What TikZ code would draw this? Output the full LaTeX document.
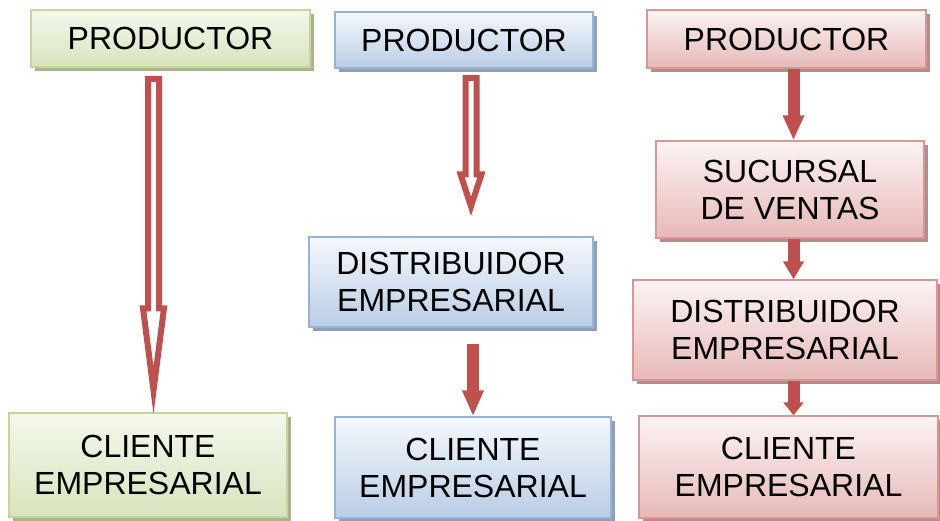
\documentclass[tikz,border=0pt]{standalone}
\usepackage{fontspec}
\setmainfont{Liberation Sans}
\usetikzlibrary{arrows.meta,calc,shadows}

\definecolor{arrowred}{HTML}{C0504D}
\definecolor{greenline}{HTML}{C3D69B}
\definecolor{greentop}{HTML}{F4F8EC}
\definecolor{greenbot}{HTML}{D7E4BD}
\definecolor{greenshadow}{HTML}{A9B48F}
\definecolor{blueline}{HTML}{95B3D7}
\definecolor{bluetop}{HTML}{F5F8FC}
\definecolor{bluebot}{HTML}{B9CDE5}
\definecolor{blueshadow}{HTML}{8F9FB4}
\definecolor{redline}{HTML}{D99694}
\definecolor{redtop}{HTML}{FCF3F3}
\definecolor{redbot}{HTML}{E6B9B8}
\definecolor{redshadow}{HTML}{B38C8C}

\tikzset{
  box/.style={draw, line width=1.5pt, inner sep=0pt, align=center,
    font=\fontsize{32}{37}\selectfont},
  greenbox/.style={box, draw=greenline, top color=greentop, bottom color=greenbot,
    drop shadow={shadow xshift=4pt, shadow yshift=-4pt, fill=greenshadow, opacity=1}},
  bluebox/.style={box, draw=blueline, top color=bluetop, bottom color=bluebot,
    drop shadow={shadow xshift=4pt, shadow yshift=-4pt, fill=blueshadow, opacity=1}},
  redbox/.style={box, draw=redline, top color=redtop, bottom color=redbot,
    drop shadow={shadow xshift=4pt, shadow yshift=-4pt, fill=redshadow, opacity=1}},
  hollowarrow/.style={draw=arrowred, line width=6pt, fill=white, line join=miter},
  blockarrow/.style={draw=arrowred, line width=12pt, -{Triangle[width=20pt,length=#1]}},
  blockarrow/.default=25pt
}

% from, to, head length
\newcommand{\drawhollow}[3]{%
  \draw[hollowarrow] let \p1=(#1), \p2=(#2) in
    (\x1-5.5pt,\y1) -- (\x1-5.5pt,\y2+#3) -- (\x1-10.5pt,\y2+#3) -- (\x1,\y2)
    -- (\x1+10.5pt,\y2+#3) -- (\x1+5.5pt,\y2+#3) -- (\x1+5.5pt,\y1) -- cycle;}

\begin{document}
\begin{tikzpicture}[x=1pt, y=-1pt]
  \useasboundingbox (0,0) rectangle (940,520);

  % green column
  \node[greenbox, minimum width=279pt, minimum height=57pt] (g1) at (170.5,38.5) {PRODUCTOR};
  \node[greenbox, minimum width=278pt, minimum height=104pt] (g2) at (148,465) {CLIENTE\\EMPRESARIAL};

  % blue column
  \node[bluebox, minimum width=258pt, minimum height=56pt] (b1) at (464,40) {PRODUCTOR};
  \node[bluebox, minimum width=284pt, minimum height=90pt] (b2) at (451,282) {DISTRIBUIDOR\\EMPRESARIAL};
  \node[bluebox, minimum width=276pt, minimum height=101pt] (b3) at (473,467.5) {CLIENTE\\EMPRESARIAL};

  % red column
  \node[redbox, minimum width=279pt, minimum height=58pt] (r1) at (786.5,39) {PRODUCTOR};
  \node[redbox, minimum width=268pt, minimum height=97pt] (r2) at (790,189.5) {SUCURSAL\\DE VENTAS};
  \node[redbox, minimum width=304pt, minimum height=100pt] (r3) at (785,330) {DISTRIBUIDOR\\EMPRESARIAL};
  \node[redbox, minimum width=299pt, minimum height=102pt] (r4) at (788.5,467) {CLIENTE\\EMPRESARIAL};

  % arrows
  \coordinate (gtop) at ([xshift=-17pt,yshift=-11pt]g1.south);
  \coordinate (gtip) at ($(gtop |- g2.north)+(0,-22)$);
  \drawhollow{gtop}{gtip}{82pt}

  \coordinate (btop) at ([xshift=7pt,yshift=-9pt]b1.south);
  \coordinate (btip) at ($(btop |- b2.north)+(0,-30)$);
  \drawhollow{btop}{btip}{32pt}
  \draw[blockarrow=26pt] ($(b2.south -| b3.north)+(0,16)$) -- (b3.north);

  \coordinate (rx) at ([xshift=7pt]r1.south);
  \draw[blockarrow=25pt] (rx) -- (rx |- r2.north);
  \draw[blockarrow=18pt] (rx |- r2.south) -- (rx |- r3.north);
  \draw[blockarrow=13pt] (rx |- r3.south) -- (rx |- r4.north);
\end{tikzpicture}
\end{document}
